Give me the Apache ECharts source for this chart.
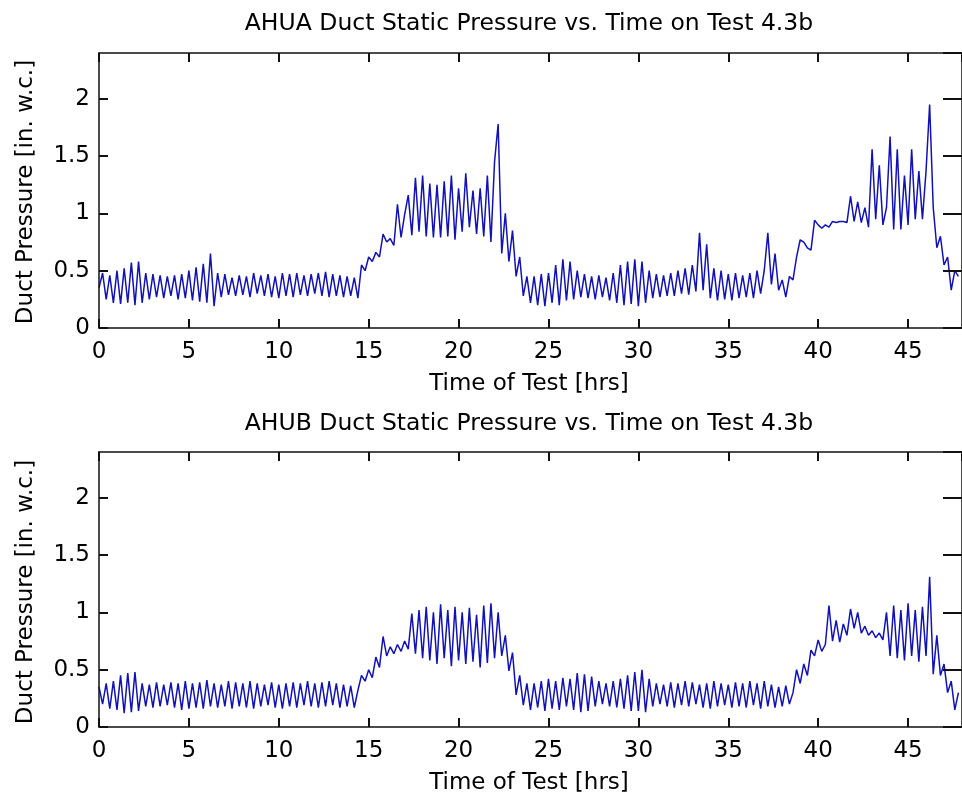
<!DOCTYPE html>
<html>
<head>
<meta charset="utf-8">
<script src="https://cdn.jsdelivr.net/npm/echarts@6/dist/echarts.min.js"></script>
<style>
html,body{margin:0;padding:0;background:#fff;}
#chart{width:962px;height:799px;}
</style>
</head>
<body>
<div id="chart"></div>
<script>
// Sample spacing of the read-off values (hours)
var timeStep = 0.2;
var xTicks = [0, 5, 10, 15, 20, 25, 30, 35, 40, 45];
var yTicks = [0, 0.5, 1, 1.5, 2];
var titles = ["AHUA Duct Static Pressure vs. Time on Test 4.3b", "AHUB Duct Static Pressure vs. Time on Test 4.3b"];
var xLabel = "Time of Test [hrs]";
var yLabel = "Duct Pressure [in. w.c.]";

// AHUA duct pressure, t = 0 .. 47.8 h every 0.2 h
var ahuaValues = [
  0.35, 0.48, 0.25, 0.46, 0.22, 0.50, 0.21, 0.52, 0.22, 0.57,
  0.20, 0.58, 0.22, 0.48, 0.25, 0.47, 0.27, 0.46, 0.26, 0.45,
  0.28, 0.46, 0.25, 0.47, 0.26, 0.50, 0.24, 0.53, 0.23, 0.56,
  0.22, 0.65, 0.19, 0.48, 0.27, 0.47, 0.29, 0.44, 0.28, 0.46,
  0.29, 0.45, 0.27, 0.48, 0.30, 0.46, 0.28, 0.47, 0.27, 0.45,
  0.26, 0.48, 0.28, 0.47, 0.27, 0.48, 0.29, 0.46, 0.28, 0.47,
  0.30, 0.48, 0.28, 0.49, 0.27, 0.47, 0.28, 0.46, 0.27, 0.45,
  0.28, 0.44, 0.26, 0.55, 0.50, 0.62, 0.58, 0.66, 0.62, 0.82,
  0.75, 0.78, 0.72, 1.08, 0.79, 0.99, 1.16, 0.81, 1.31, 0.84,
  1.33, 0.80, 1.26, 0.79, 1.25, 0.79, 1.28, 0.80, 1.33, 0.77,
  1.22, 0.84, 1.35, 0.88, 1.20, 0.82, 1.22, 0.80, 1.33, 0.75,
  1.45, 1.78, 0.65, 1.00, 0.58, 0.85, 0.45, 0.62, 0.28, 0.45,
  0.22, 0.45, 0.20, 0.47, 0.19, 0.48, 0.22, 0.55, 0.20, 0.60,
  0.24, 0.58, 0.25, 0.50, 0.27, 0.47, 0.26, 0.45, 0.25, 0.46,
  0.27, 0.44, 0.24, 0.48, 0.22, 0.55, 0.20, 0.58, 0.21, 0.60,
  0.19, 0.58, 0.22, 0.50, 0.26, 0.47, 0.27, 0.46, 0.28, 0.48,
  0.28, 0.50, 0.30, 0.52, 0.29, 0.55, 0.32, 0.83, 0.33, 0.73,
  0.26, 0.52, 0.24, 0.50, 0.25, 0.47, 0.24, 0.48, 0.26, 0.46,
  0.27, 0.48, 0.26, 0.50, 0.30, 0.50, 0.83, 0.38, 0.65, 0.33,
  0.42, 0.27, 0.45, 0.42, 0.62, 0.77, 0.75, 0.70, 0.68, 0.94,
  0.90, 0.87, 0.90, 0.88, 0.93, 0.92, 0.93, 0.93, 0.92, 1.15,
  0.93, 1.10, 0.92, 1.05, 0.88, 1.56, 0.95, 1.42, 0.90, 1.05,
  1.67, 0.86, 1.56, 0.86, 1.33, 0.90, 1.56, 0.95, 1.37, 0.95,
  1.37, 1.95, 1.05, 0.70, 0.80, 0.55, 0.62, 0.33, 0.50, 0.45
];

// AHUB duct pressure, t = 0 .. 47.8 h every 0.2 h
var ahubValues = [
  0.35, 0.20, 0.38, 0.16, 0.40, 0.15, 0.45, 0.12, 0.47, 0.13,
  0.48, 0.14, 0.38, 0.18, 0.37, 0.17, 0.39, 0.18, 0.37, 0.19,
  0.39, 0.17, 0.38, 0.15, 0.40, 0.16, 0.38, 0.17, 0.39, 0.16,
  0.41, 0.18, 0.38, 0.17, 0.37, 0.18, 0.40, 0.16, 0.39, 0.18,
  0.38, 0.17, 0.40, 0.16, 0.38, 0.18, 0.37, 0.19, 0.39, 0.17,
  0.37, 0.16, 0.38, 0.18, 0.39, 0.17, 0.38, 0.19, 0.40, 0.18,
  0.38, 0.17, 0.39, 0.18, 0.40, 0.19, 0.38, 0.17, 0.37, 0.18,
  0.36, 0.17, 0.32, 0.45, 0.40, 0.50, 0.43, 0.61, 0.52, 0.79,
  0.62, 0.70, 0.64, 0.72, 0.66, 0.75, 0.68, 0.99, 0.64, 1.02,
  0.60, 1.05, 0.58, 1.00, 0.55, 1.07, 0.60, 1.02, 0.53, 1.05,
  0.58, 1.00, 0.55, 1.04, 0.57, 0.98, 0.52, 1.06, 0.56, 1.08,
  0.60, 1.00, 0.62, 0.80, 0.49, 0.65, 0.28, 0.45, 0.19, 0.38,
  0.15, 0.38, 0.17, 0.40, 0.14, 0.42, 0.16, 0.40, 0.15, 0.43,
  0.18, 0.42, 0.15, 0.47, 0.13, 0.46, 0.14, 0.44, 0.18, 0.40,
  0.20, 0.38, 0.18, 0.40, 0.17, 0.42, 0.16, 0.45, 0.14, 0.48,
  0.14, 0.50, 0.13, 0.42, 0.18, 0.38, 0.20, 0.37, 0.18, 0.39,
  0.17, 0.38, 0.19, 0.40, 0.18, 0.39, 0.20, 0.37, 0.17, 0.38,
  0.16, 0.40, 0.18, 0.38, 0.19, 0.37, 0.17, 0.39, 0.18, 0.38,
  0.17, 0.40, 0.19, 0.38, 0.16, 0.40, 0.18, 0.37, 0.17, 0.35,
  0.18, 0.36, 0.20, 0.30, 0.50, 0.38, 0.55, 0.45, 0.67, 0.62,
  0.76, 0.66, 0.72, 1.06, 0.75, 0.93, 0.74, 0.90, 0.80, 1.03,
  0.86, 1.00, 0.82, 0.88, 0.80, 0.84, 0.78, 0.82, 0.76, 1.00,
  0.62, 1.06, 0.60, 1.02, 0.58, 1.08, 0.62, 1.02, 0.57, 1.05,
  0.62, 1.31, 0.46, 0.80, 0.45, 0.55, 0.30, 0.40, 0.15, 0.30
];

function pairs(vals) {
  var out = [];
  for (var i = 0; i < vals.length; i++) {
    out.push([Math.round(i * timeStep * 10) / 10, vals[i]]);
  }
  return out;
}

var FONT = '"DejaVu Sans", sans-serif';
var FS = 23;
var TFS = 23.5;
var lineColor = '#1212b4';

var grids = [
  { left: 99, right: -4, top: 53, height: 275 },
  { left: 99, right: -4, top: 452, height: 275 }
];

function xAx(gi, pos) {
  return {
    type: 'value', gridIndex: gi, position: pos,
    min: 0, max: 48, interval: 5,
    z: 10,
    axisLine: { show: true, onZero: false, lineStyle: { color: '#111', width: 1.5 } },
    axisTick: { show: true, inside: true, interval: 0, length: 9, lineStyle: { color: '#111', width: 2 } },
    axisLabel: pos === 'bottom' ? {
      show: true, margin: 13, color: '#000', fontFamily: FONT, fontSize: FS,
      showMaxLabel: false
    } : { show: false },
    splitLine: { show: false }
  };
}
function yAx(gi, pos) {
  return {
    type: 'value', gridIndex: gi, position: pos,
    min: 0, max: 2.4, interval: 0.5,
    z: 10,
    axisLine: { show: true, onZero: false, lineStyle: { color: '#111', width: 1.5 } },
    axisTick: { show: true, inside: true, interval: 0, length: pos === 'left' ? 9 : 19, lineStyle: { color: '#111', width: 2 } },
    axisLabel: pos === 'left' ? {
      show: true, margin: 9, color: '#000', fontFamily: FONT, fontSize: FS,
      showMaxLabel: false, padding: [5, 0, 0, 0]
    } : { show: false },
    splitLine: { show: false }
  };
}

var chart = echarts.init(document.getElementById('chart'), null, { renderer: 'canvas' });
chart.setOption({
  animation: false,
  backgroundColor: '#fff',
  grid: grids,
  xAxis: [xAx(0, 'bottom'), xAx(0, 'top'), xAx(1, 'bottom'), xAx(1, 'top')],
  yAxis: [yAx(0, 'left'), yAx(0, 'right'), yAx(1, 'left'), yAx(1, 'right')],
  series: [
    { type: 'line', xAxisIndex: 0, yAxisIndex: 0, data: pairs(ahuaValues), showSymbol: false,
      lineStyle: { color: lineColor, width: 1.5 }, clip: true },
    { type: 'line', xAxisIndex: 2, yAxisIndex: 2, data: pairs(ahubValues), showSymbol: false,
      lineStyle: { color: lineColor, width: 1.5 }, clip: true }
  ],
  graphic: [
    { type: 'text', x: 529, y: 24, style: { text: titles[0], font: TFS + 'px ' + FONT, fill: '#000', align: 'center', verticalAlign: 'middle' } },
    { type: 'text', x: 529, y: 424, style: { text: titles[1], font: TFS + 'px ' + FONT, fill: '#000', align: 'center', verticalAlign: 'middle' } },
    { type: 'text', x: 529, y: 384, style: { text: xLabel, font: FS + 'px ' + FONT, fill: '#000', align: 'center', verticalAlign: 'middle' } },
    { type: 'text', x: 529, y: 783, style: { text: xLabel, font: FS + 'px ' + FONT, fill: '#000', align: 'center', verticalAlign: 'middle' } },
    { type: 'text', x: 26, y: 192, rotation: Math.PI / 2, style: { text: yLabel, font: FS + 'px ' + FONT, fill: '#000', align: 'center', verticalAlign: 'middle' } },
    { type: 'text', x: 26, y: 592, rotation: Math.PI / 2, style: { text: yLabel, font: FS + 'px ' + FONT, fill: '#000', align: 'center', verticalAlign: 'middle' } }
  ]
});
</script>
</body>
</html>
